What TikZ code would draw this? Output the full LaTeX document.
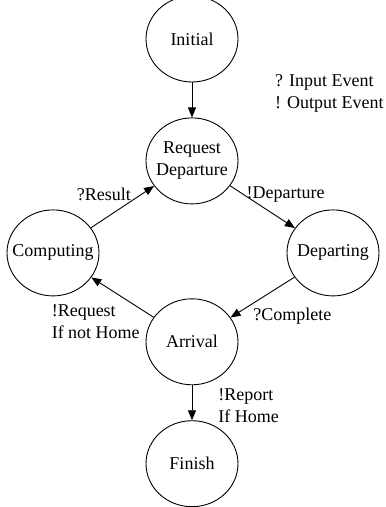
\documentclass[tikz,border=0pt]{standalone}
\usepackage{fontspec}
\setmainfont{Liberation Serif}
\usetikzlibrary{positioning}
\usetikzlibrary {arrows.meta}
\usetikzlibrary{shapes.geometric}
\tikzset{statenode/.style={ellipse,draw=black,fill=white,line width=0.9pt,
inner xsep=-10pt,inner ysep=0pt,minimum width=92pt, minimum height=86pt, align=center}}
\tikzset{eventlabel/.style={rectangle,draw=none,
inner sep=0pt,align=left}}
\tikzset{eventarrow/.style={line width=0.9pt,-{Triangle[length=10pt,width=8pt]}}}

\begin{document}
\begin{tikzpicture}[font=\fontsize{18}{22}\selectfont]

        \useasboundingbox (-192pt,39pt) rectangle (194pt,-468pt);

        \node[statenode] (initial) at (0, 0) {Initial};
        \node[statenode] (reqdep) [below=35pt of initial] {Request\\Departure};
        \node[statenode] (computing) at ([xshift=-139pt,yshift=-92pt]reqdep) {Computing};
        \node[statenode] (departing) at ([xshift=141pt,yshift=-92pt]reqdep) {Departing};
        \node[statenode] (arrival) [below=94pt of reqdep] {Arrival};
        \node[statenode] (finish) [below=35pt of arrival] {Finish};

        \node[eventlabel, anchor=north west] (legend) at ([xshift=83pt,yshift=-35pt]initial) {? Input Event\\! Output Event};

        \draw [eventarrow] (initial) -- (reqdep);
        \draw [eventarrow] (reqdep) --node[eventlabel, pos=0.25, anchor=base west, yshift=-2pt] {!Departure} (departing);
        \draw [eventarrow] (departing) --node[eventlabel, pos=0.65, anchor=north west, yshift=-4pt] {?Complete} (arrival);
        \draw [eventarrow] (arrival) --node[eventlabel, pos=0.2, anchor=north east, xshift=-1pt, yshift=5pt] {!Request\\If not Home} (computing);
        \draw [eventarrow] (computing) --node[eventlabel, pos=0.64, anchor=base east, yshift=1pt] {?Result} (reqdep);
        \draw [eventarrow] (arrival) --node[eventlabel, right=26pt, yshift=-3pt] {!Report\\If Home} (finish);

    \end{tikzpicture}
\end{document}
